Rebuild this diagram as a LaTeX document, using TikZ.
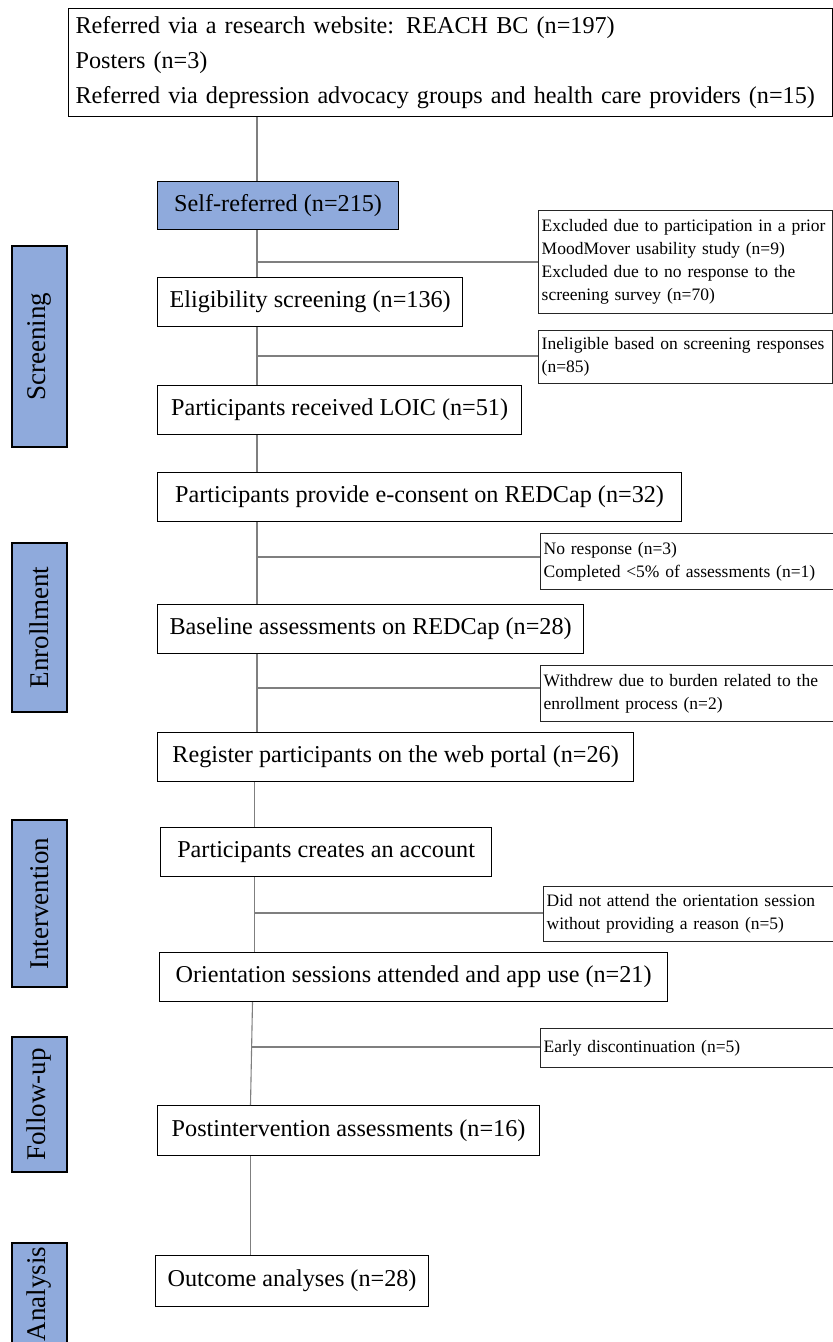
\documentclass[tikz,border=0pt]{standalone}
\usepackage{fontspec}
\setmainfont{Liberation Serif}
\definecolor{phaseblue}{HTML}{8FAADC}
\definecolor{linegray}{HTML}{7F7F7F}
\tikzset{
	stagebox/.style={draw=black, line width=1.2pt, anchor=north west, inner xsep=12pt,
		inner ysep=2pt, minimum height=49pt, font=\fontsize{24.2}{35}\selectfont},
	exclbox/.style={draw=black!85, line width=1.4pt, anchor=north west, align=left,
		text width=288pt, inner xsep=3pt, inner ysep=4pt, font=\fontsize{17.5}{23}\selectfont},
	phasebox/.style={draw=black, line width=1.4pt, fill=phaseblue, rotate=90,
		minimum height=55pt, inner sep=0pt, font=\fontsize{27}{30}\selectfont},
	flowline/.style={draw=linegray, line width=1.1pt}
}

\begin{document}
\begin{tikzpicture}[x=1pt, y=-1pt]
	\useasboundingbox (0,0) rectangle (833,1342);
	\node[stagebox, align=left, text width=750pt, inner xsep=7pt, minimum height=108pt] (refer) at (68,8)
		{Referred via a research website: REACH BC (n=197)\\Posters (n=3)\\Referred via depression advocacy groups and health care providers (n=15)};
	\node[stagebox, fill=phaseblue, minimum width=241pt, minimum height=48pt] (self) at (157,181) {Self-referred (n=215)};
	\node[stagebox, minimum width=300pt] (elig) at (157,277) {Eligibility screening (n=136)};
	\node[stagebox, minimum width=364pt] (loic) at (157,385) {Participants received LOIC (n=51)};
	\node[stagebox, minimum width=524pt] (consent) at (157,472) {Participants provide e-consent on REDCap (n=32)};
	\node[stagebox, minimum width=426pt] (base) at (157,604) {Baseline assessments on REDCap (n=28)};
	\node[stagebox, minimum width=476pt] (reg) at (157,732) {Register participants on the web portal (n=26)};
	\node[stagebox, minimum width=331pt] (acct) at (160,827) {Participants creates an account};
	\node[stagebox, minimum width=508pt] (orient) at (159,952) {Orientation sessions attended and app use (n=21)};
	\node[stagebox, minimum width=382pt, minimum height=50pt] (post) at (157,1105) {Postintervention assessments (n=16)};
	\node[stagebox, minimum width=273pt, minimum height=51pt] (outcome) at (155,1255) {Outcome analyses (n=28)};

	\node[exclbox, minimum height=103pt] (ex1) at (538,210) {Excluded due to participation in a prior\\MoodMover usability study (n=9)\\Excluded due to no response to the\\screening survey (n=70)};
	\node[exclbox, minimum height=53pt] (ex2) at (538,330) {Ineligible based on screening responses\\(n=85)};
	\node[exclbox, minimum height=56pt] (ex3) at (540,533) {No response (n=3)\\Completed <5\% of assessments (n=1)};
	\node[exclbox, minimum height=56pt] (ex4) at (540,665) {Withdrew due to burden related to the\\enrollment process (n=2)};
	\node[exclbox, minimum height=55pt] (ex5) at (543,886) {Did not attend the orientation session\\without providing a reason (n=5)};
	\node[exclbox, minimum height=39pt] (ex6) at (540,1028) {Early discontinuation (n=5)};

	\node[phasebox, minimum width=201pt] (screen) at (39.5,346.5) {Screening};
	\node[phasebox, minimum width=169pt] (enrol) at (39.5,627.5) {Enrollment};
	\node[phasebox, minimum width=167pt] (interv) at (39.5,903.5) {Intervention};
	\node[phasebox, minimum width=135pt] (follow) at (39.5,1104.5) {Follow-up};
	\node[phasebox, minimum width=102pt] (anal) at (39.5,1294) {Analysis};

	\coordinate (ta) at (257,0);
	\coordinate (tb) at (254.5,0);
	\coordinate (tc) at (252.5,0);
	\coordinate (td) at (250.5,0);
	\draw[flowline] (refer.south -| ta) -- (self.north -| ta);
	\draw[flowline] (self.south -| ta) -- (elig.north -| ta);
	\draw[flowline] (elig.south -| ta) -- (loic.north -| ta);
	\draw[flowline] (loic.south -| ta) -- (consent.north -| ta);
	\draw[flowline] (consent.south -| ta) -- (base.north -| ta);
	\draw[flowline] (base.south -| ta) -- (reg.north -| ta);
	\draw[flowline] (reg.south -| tb) -- (acct.north -| tb);
	\draw[flowline] (acct.south -| tb) -- (orient.north -| tb);
	\draw[flowline] (orient.south -| tc) -- (post.north -| td);
	\draw[flowline] (post.south -| td) -- (outcome.north -| td);

	\coordinate (j1) at (257,262);
	\coordinate (j2) at (257,356);
	\coordinate (j3) at (257,557);
	\coordinate (j4) at (257,688);
	\coordinate (j5) at (254.5,913);
	\coordinate (j6) at (251.5,1047);
	\draw[flowline] (j1) -- (j1 -| ex1.west);
	\draw[flowline] (j2) -- (j2 -| ex2.west);
	\draw[flowline] (j3) -- (j3 -| ex3.west);
	\draw[flowline] (j4) -- (j4 -| ex4.west);
	\draw[flowline] (j5) -- (j5 -| ex5.west);
	\draw[flowline] (j6) -- (j6 -| ex6.west);
\end{tikzpicture}
\end{document}
